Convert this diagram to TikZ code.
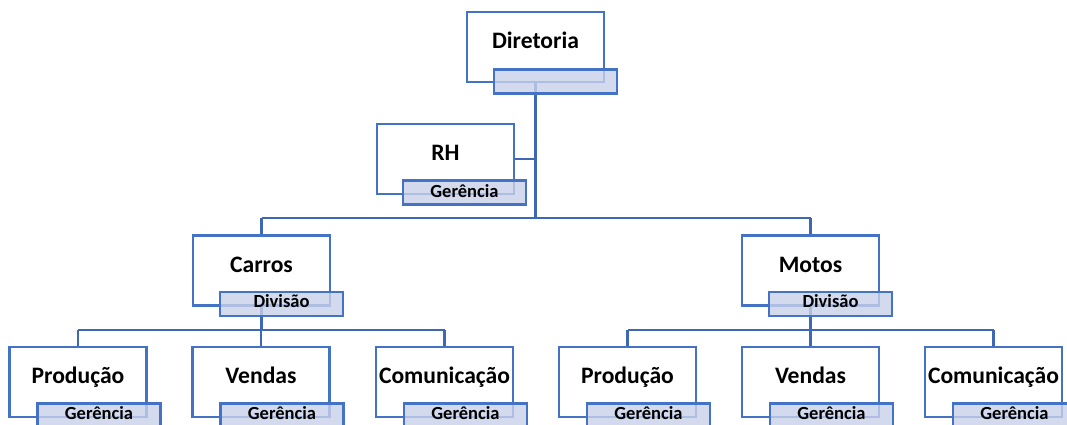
\documentclass[tikz,border=0pt]{standalone}
\usepackage{fontspec}
\setmainfont{Carlito}
\usetikzlibrary{calc}
\definecolor{bord}{HTML}{4472C4}
\definecolor{conn}{HTML}{3E68B4}
\definecolor{lblfill}{HTML}{C9D1EA}
\tikzset{
  box/.style={draw=bord, line width=2.6pt, fill=white, rectangle, minimum width=137pt, minimum height=70pt, inner sep=0pt},
  lbl/.style={draw=bord, line width=2.6pt, fill=lblfill, fill opacity=0.8, text opacity=1, rectangle, minimum width=123pt, minimum height=24pt, inner sep=0pt, anchor=north west},
  boxtext/.style={font=\fontsize{23.6}{27}\selectfont\bfseries, anchor=base, inner sep=0pt},
  lbltext/.style={font=\fontsize{18.5}{21}\selectfont\bfseries, anchor=base, inner sep=0pt},
  con/.style={draw=conn, line width=2.4pt},
}
\begin{document}
\begin{tikzpicture}[x=1pt, y=-1pt]
\useasboundingbox (0,0) rectangle (1067,424);
% coordinates of horizontal bus lines
\coordinate (h1) at (0,218);
\coordinate (h2) at (0,330);
% boxes
\node[box] (dir) at (535.5,47) {};
\node[box] (rh) at (445.5,159) {};
\node[box] (car) at (261.5,270.5) {};
\node[box] (mot) at (810.5,270.5) {};
\node[box] (p1) at (78,382) {};
\node[box] (v1) at (261,382) {};
\node[box] (c1) at (444.5,382) {};
\node[box] (p2) at (627.5,382) {};
\node[box] (v2) at (810.5,382) {};
\node[box] (c2) at (993.5,382) {};
% connectors
\draw[con] (dir.south) -- (dir.south |- h1);
\draw[con] (rh.east) -- (rh.east -| dir.south);
\draw[con] (car.north |- h1) -- (mot.north |- h1);
\draw[con] (car.north |- h1) -- (car.north);
\draw[con] (mot.north |- h1) -- (mot.north);
\draw[con] (car.south) -- (car.south |- h2);
\draw[con] (mot.south) -- (mot.south |- h2);
\draw[con] (p1.north |- h2) -- (c1.north |- h2);
\draw[con] (p2.north |- h2) -- (c2.north |- h2);
\foreach \n in {p1,v1,c1,p2,v2,c2}{\draw[con] (\n.north |- h2) -- (\n.north);}
% labels
\node[lbl] (dirL) at ($(dir.south west)+(27,-15)$) {};
\node[lbl] (rhL) at ($(rh.south west)+(26,-16)$) {};
\node[lbl] (carL) at ($(car.south west)+(27,-16)$) {};
\node[lbl] (motL) at ($(mot.south west)+(27,-16)$) {};
\foreach \n in {p1,v1,c1,p2,v2,c2}{\node[lbl] (\n L) at ($(\n.south west)+(28,-16)$) {};}
% texts
\node[boxtext] (tdir) at ($(dir.north)+(0,38)$) {Diretoria};
\node[boxtext] (trh) at ($(rh.north)+(0,38)$) {RH};
\node[boxtext] (tcar) at ($(car.north)+(0,38)$) {Carros};
\node[boxtext] (tmot) at ($(mot.north)+(0,38)$) {Motos};
\node[boxtext] (tp1) at ($(p1.north)+(0,38)$) {Produção};
\node[boxtext] (tv1) at ($(v1.north)+(0,38)$) {Vendas};
\node[boxtext] (tc1) at ($(c1.north)+(0,38)$) {Comunicação};
\node[boxtext] (tp2) at ($(p2.north)+(0,38)$) {Produção};
\node[boxtext] (tv2) at ($(v2.north)+(0,38)$) {Vendas};
\node[boxtext] (tc2) at ($(c2.north)+(0,38)$) {Comunicação};
\node[lbltext] (trhL) at ($(rhL.north)+(0,18)$) {Gerência};
\node[lbltext] (tcarL) at ($(carL.north)+(0,17)$) {Divisão};
\node[lbltext] (tmotL) at ($(motL.north)+(0,17)$) {Divisão};
\foreach \n in {p1,v1,c1,p2,v2,c2}{\node[lbltext] (t\n L) at ($(\n L.north)+(0,17)$) {Gerência};}
\end{tikzpicture}
\end{document}
